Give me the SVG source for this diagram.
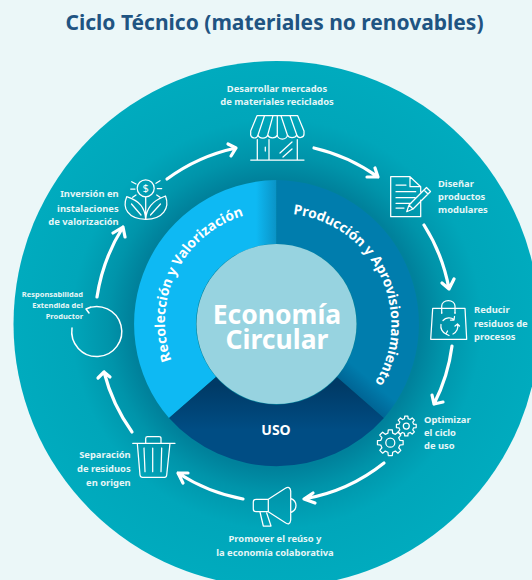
<svg xmlns="http://www.w3.org/2000/svg" width="532" height="580" viewBox="0 0 532 580">
<style>
text{font-family:"Noto Sans","Open Sans","Liberation Sans",sans-serif;font-weight:700;fill:#e6f6f7}
.l{font-size:9.4px}
.s{font-size:7.500px}
.e{text-anchor:end}
.m{text-anchor:middle}
.seg{font-size:13.8px;fill:#fff}
.ic{fill:none;stroke:#fff;stroke-width:1.25;stroke-linecap:round;stroke-linejoin:round}
.ar{fill:none;stroke:#fff;stroke-width:3.2;stroke-linecap:round;stroke-linejoin:round}
</style>
<defs>
<radialGradient id="ring" gradientUnits="userSpaceOnUse" cx="276.5" cy="324" r="263">
<stop offset="0.55" stop-color="#00819b"/><stop offset="0.64" stop-color="#0094aa"/><stop offset="0.78" stop-color="#00a6ba"/><stop offset="1" stop-color="#00abbe"/>
</radialGradient>
<linearGradient id="gA" gradientUnits="userSpaceOnUse" x1="256" y1="0" x2="276.5" y2="0"><stop offset="0" stop-color="#0eb9f3"/><stop offset="1" stop-color="#0a93c6"/></linearGradient>
<linearGradient id="gB" gradientUnits="userSpaceOnUse" x1="360" y1="397" x2="373" y2="382"><stop offset="0" stop-color="#006595"/><stop offset="1" stop-color="#007dad"/></linearGradient>
<linearGradient id="gC" gradientUnits="userSpaceOnUse" x1="276" y1="385" x2="276" y2="430"><stop offset="0" stop-color="#003a66"/><stop offset="1" stop-color="#004d84"/></linearGradient>
<path id="pR" d="M171.600 360A111 111 0 0 1 246 215"/>
<path id="pP" d="M293 214.200A111 111 0 0 1 374 384"/>
<path id="gear" d="M9.51-2.37L12.84-2.03L12.84 2.03L9.51 2.37L8.4 5.05L10.52 7.64L7.64 10.52L5.05 8.4L2.37 9.51L2.03 12.84L-2.03 12.84L-2.37 9.51L-5.05 8.4L-7.64 10.52L-10.52 7.64L-8.4 5.05L-9.51 2.37L-12.84 2.03L-12.84-2.03L-9.51-2.37L-8.4-5.05L-10.52-7.64L-7.64-10.52L-5.05-8.4L-2.37-9.51L-2.03-12.84L2.03-12.84L2.37-9.51L5.05-8.4L7.64-10.52L10.52-7.64L8.4-5.05Z"/>
</defs>
<rect width="532" height="580" fill="#ebf7f8"/>
<text id="title" x="274.5" y="30" class="m" style="font-size:21px;fill:#1f5482">Ciclo Técnico (materiales no renovables)</text>
<circle id="outer-ring" cx="276.5" cy="324" r="263" fill="url(#ring)"/>
<g id="segment-recoleccion">
<path d="M276.500 180A144 144 0 0 0 169 418L216 377A80 80 0 0 1 276.500 244Z" fill="url(#gA)"/>
<text class="seg"><textPath href="#pR">Recolección y Valorización</textPath></text>
</g>
<g id="segment-produccion">
<path d="M276.500 180A144 144 0 0 1 384 418L337 377A80 80 0 0 0 276.500 244Z" fill="url(#gB)"/>
<text class="seg"><textPath href="#pP">Producción y Aprovisionamiento</textPath></text>
</g>
<g id="segment-uso">
<path d="M169 418A144 144 0 0 0 384 418L337 377A80 80 0 0 1 216 377Z" fill="url(#gC)"/>
<text x="276" y="435" class="m" style="font-size:14px;fill:#fff">USO</text>
</g>
<g id="center">
<circle cx="276.500" cy="324" r="80" fill="#97d3e0"/>
<text x="277" y="323.500" class="m" style="font-size:26.500px;fill:#fff">Economía</text>
<text x="277" y="348.500" class="m" style="font-size:26.500px;fill:#fff">Circular</text>
</g>
<g id="connectors">
<path class="ar" d="M167 179A181 181 0 0 1 236 148M228 144L236 148L231 156"/>
<path class="ar" d="M314 148A180 180 0 0 1 378 177M375 168L378 177L367 177"/>
<path class="ar" d="M424 225A177.500 177.500 0 0 1 449 289M442 283L449 289L454 279"/>
<path class="ar" d="M452 346A177.500 177.500 0 0 1 434 404M432 395L434 404L443 402"/>
<path class="ar" d="M384 463A177 177 0 0 1 304 499M313 493L304 499L315 503"/>
<path class="ar" d="M243 499A178 178 0 0 1 178 473M188 473L178 473L183 483"/>
<path class="ar" d="M132 432A181 181 0 0 1 104 372M98 378L104 372L110 377"/>
<path class="ar" d="M97 297A182 182 0 0 1 123 227M113 233L123 227L125 237"/>
<path class="ic" style="stroke-width:1.500" d="M72 328A25 25 0 1 0 86 309M91 307L86 309L89 313"/>
</g>
<g id="node-mercados">
<text x="277" y="92" class="l m">Desarrollar mercados</text>
<text x="277" y="104.500" class="l m">de materiales reciclados</text>
<path class="ic" d="M257 115.700H297.700L304 131V133.500A3.700 3.700 0 0 1 296.800 135A5 4 0 0 1 287.400 135A5 4 0 0 1 277.300 135A5 4 0 0 1 267.700 135A5 4 0 0 1 258 135A3.700 3.700 0 0 1 250.700 133.500V131ZM264.500 115.700L258 135M273 115.700L267.700 135M281 115.700L287.400 135M290 115.700L296.800 135M277.300 115.700V135M257.300 139.500V160M297.300 139.500V160M269 139.500V160M250.700 160H304M265.300 147V151M280 153L292 142M283 157L292 149"/>
</g>
<g id="node-disenar">
<text x="438" y="186.700" class="l">Diseñar</text>
<text x="438" y="200" class="l">productos</text>
<text x="438" y="213.300" class="l">modulares</text>
<path class="ic" d="M420.700 200V216.700H390.700V176.700H410L420.700 186.700V192M410 176.700V186.700H420.700M396 185H406M396 191.700H415.700M396 197.700H415M396 203.300H411M396 208H404M406.700 211.700L409 205L426.500 187.500L430.500 191.500L413 209ZM424 190L428 194M409 205L413 209"/>
</g>
<g id="node-reducir">
<text x="474" y="312.700" class="l">Reducir</text>
<text x="474" y="326.700" class="l">residuos de</text>
<text x="474" y="340" class="l">procesos</text>
<path class="ic" d="M432.700 308.300H465L466.700 339.300H430.700ZM441.700 313V306A6.650 5.500 0 0 1 455 306V313"/>
<circle cx="441.700" cy="313" r="0.800" fill="#fff"/><circle cx="455" cy="313" r="0.800" fill="#fff"/>
<path class="ic" d="M443 320.500A8.500 8.500 0 0 1 454 319.500M457.500 324A8.500 8.500 0 0 1 453 334M446 334A8.500 8.500 0 0 1 441 324.500M454.500 316.500L454 320L450.500 320M459.500 326L457.500 324L455 326M449 335.500L446 334L447.500 331"/>
</g>
<g id="node-optimizar">
<text x="424" y="422.700" class="l">Optimizar</text>
<text x="424" y="436" class="l">el ciclo</text>
<text x="424" y="449.300" class="l">de uso</text>
<use href="#gear" class="ic" transform="translate(390.300 442.700)"/>
<circle class="ic" cx="390.300" cy="442.700" r="4.500"/>
<use href="#gear" class="ic" style="stroke-width:1.600" transform="translate(406.300 426) scale(0.770)"/>
<circle class="ic" cx="406.300" cy="426" r="3"/>
</g>
<g id="node-promover">
<text x="275" y="541.700" class="l m">Promover el reúso y</text>
<text x="275" y="555.700" class="l m">la economía colaborativa</text>
<path class="ic" d="M268.300 499.300L285 488.500Q290 485.500 290.700 491V520Q290 526 285 522.500L268.300 511.700H256Q253.300 511.700 253.300 509V502Q253.300 499.300 256 499.300ZM268.300 499.300V511.700M290.700 498.300Q296 500.500 296 505.500Q296 510.500 290.700 512.700M260 512L263.300 526H271L266.700 513"/>
</g>
<g id="node-separacion">
<text x="130.700" y="458.300" class="l e">Separación</text>
<text x="130.700" y="471.700" class="l e">de residuos</text>
<text x="130.700" y="485.700" class="l e">en origen</text>
<path class="ic" d="M132.700 443.300H175M137.300 443.300L140 475Q140.300 477.300 142.500 477.300H164.500Q166.500 477.300 166.700 475L170 443.300M145.700 443.300V438.500Q145.700 436.700 147.500 436.700H159Q161 436.700 161 438.500V443.300M144 448L145 471.700M152.700 448V471.700M161.700 448L161 471.700"/>
</g>
<g id="node-responsabilidad">
<text x="83" y="297.300" class="s e">Responsabilidad</text>
<text x="83" y="308.300" class="s e">Extendida del</text>
<text x="83" y="319.300" class="s e">Productor</text>
</g>
<g id="node-inversion">
<text x="118.700" y="197.300" class="l e">Inversión en</text>
<text x="118.700" y="211.700" class="l e">instalaciones</text>
<text x="118.700" y="225" class="l e">de valorización</text>
<circle class="ic" cx="145.700" cy="188.300" r="8.500"/>
<text x="145.700" y="192.300" class="m" style="font-size:11px;font-weight:400;fill:#fff">$</text>
<path class="ic" d="M130.700 189H135M131.700 181.700L136 184M132.700 197.300L136 195M157.300 188.500H161.700M156 183.300L160 180.700M156.700 195L160 197.300M145.700 197V219.300M126.700 196.700C122 208 128 219.300 145.700 219.300C145 208 140 201 126.700 196.700ZM131.500 204L141 215M165.500 196C170 208 163 219.300 145.700 219.300C146.500 208 152 201 165.500 196ZM160.500 204L150.500 215"/>
</g>
</svg>
